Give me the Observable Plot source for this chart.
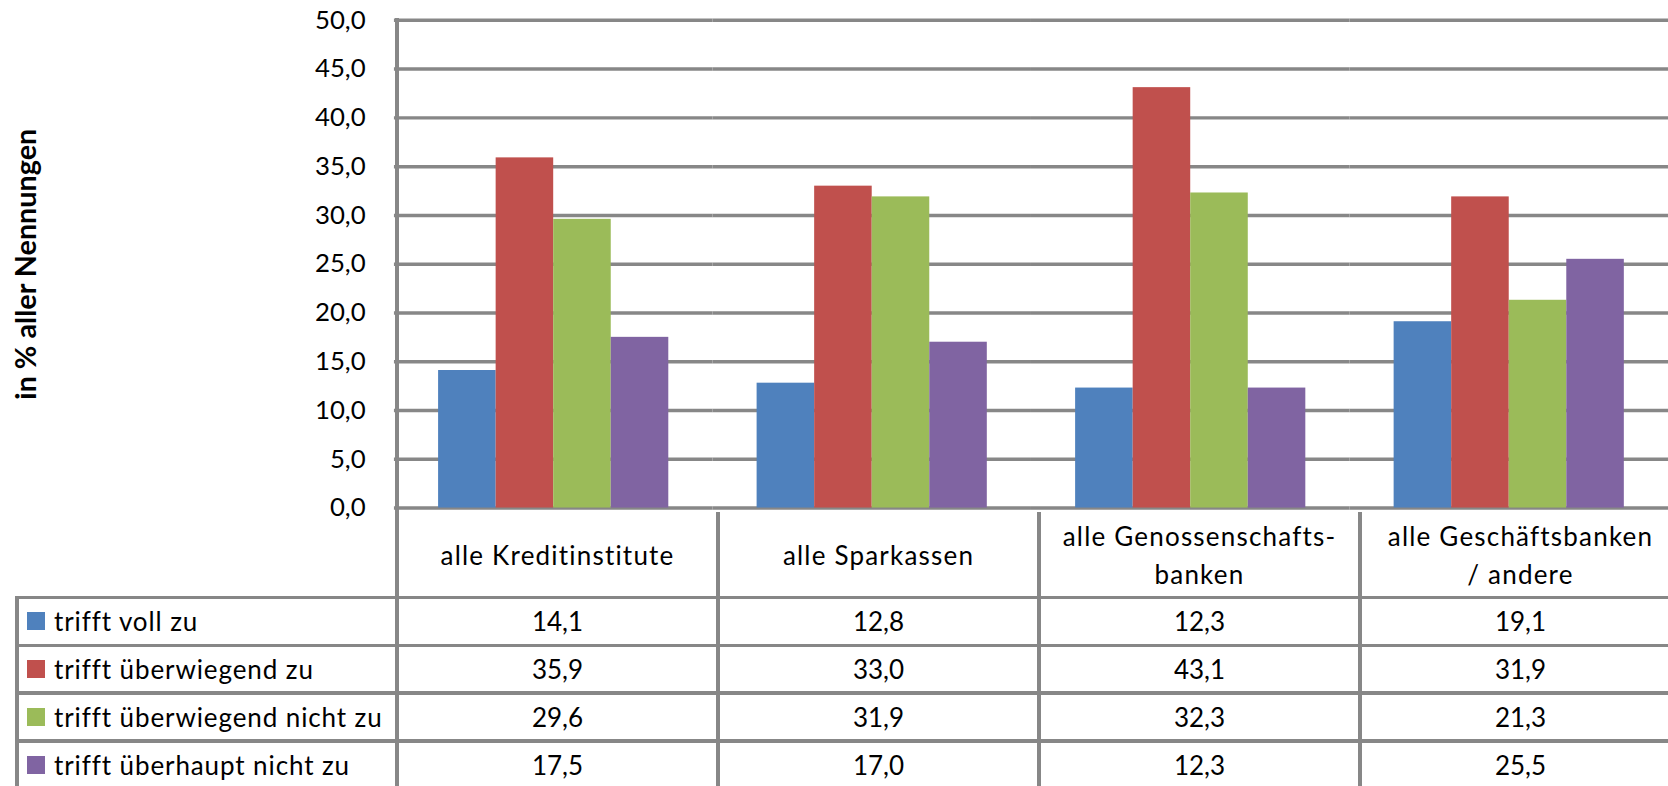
<!DOCTYPE html>
<html><head><meta charset="utf-8">
<script src="https://cdn.jsdelivr.net/npm/d3@7"></script>
<script src="https://cdn.jsdelivr.net/npm/@observablehq/plot@0.6"></script>
<style>
html,body{margin:0;padding:0;background:#fff;overflow:hidden;width:1668px;height:786px;}
#wrap{position:relative;width:1668px;height:786px;overflow:hidden;font-family:Lato, sans-serif;}
#wrap svg{position:absolute;left:0;top:0;}
.ln{position:absolute;background:#878787;}
.cell{position:absolute;display:flex;align-items:center;justify-content:center;text-align:center;font-size:26px;color:#000;white-space:pre-line;box-sizing:border-box;}
.hdr{line-height:38px;letter-spacing:1.2px;}
.lab{justify-content:flex-start;letter-spacing:0.9px;}
.sw{display:inline-block;width:18px;height:18px;margin-left:10px;margin-right:9px;}
</style></head><body><div id="wrap"></div>
<script>
const categories = ["alle Kreditinstitute", "alle Sparkassen", "alle Genossenschaftsbanken", "alle Geschäftsbanken / andere"];
const categoryLabels = ["alle Kreditinstitute", "alle Sparkassen", "alle Genossenschafts-\nbanken", "alle Geschäftsbanken\n/ andere"];
const series = ["trifft voll zu", "trifft überwiegend zu", "trifft überwiegend nicht zu", "trifft überhaupt nicht zu"];
const colors = ["#4F81BD", "#C0504D", "#9BBB59", "#8064A2"];
const trifftVollZu = [14.1, 12.8, 12.3, 19.1];
const trifftUeberwiegendZu = [35.9, 33.0, 43.1, 31.9];
const trifftUeberwiegendNichtZu = [29.6, 31.9, 32.3, 21.3];
const trifftUeberhauptNichtZu = [17.5, 17.0, 12.3, 25.5];
const yTicks = [0, 5, 10, 15, 20, 25, 30, 35, 40, 45, 50];
const yLabel = "in % aller Nennungen";

const seriesValues = [trifftVollZu, trifftUeberwiegendZu, trifftUeberwiegendNichtZu, trifftUeberhauptNichtZu];
const data = series.flatMap((s, i) => categories.map((c, j) => ({category: c, series: s, value: seriesValues[i][j]})));
const fmt = d => d.toFixed(1).replace(".", ",");

const plot = Plot.plot({
  width: 1681, height: 514,
  marginLeft: 396.5, marginRight: 0, marginTop: 20, marginBottom: 2.5,
  style: {fontFamily: "Lato, sans-serif", fontSize: "26px", color: "#000", background: "transparent", overflow: "visible"},
  fx: {domain: categories, padding: 0, axis: null},
  x: {domain: series, paddingInner: 0, paddingOuter: 0.767, axis: null},
  y: {domain: [0, 50], axis: null},
  color: {domain: series, range: colors},
  marks: [
    Plot.gridY(yTicks, {stroke: "#878787", strokeOpacity: 1, strokeWidth: 3.5}),
    Plot.barY(data, {fx: "category", x: "series", y: "value", fill: "series"}),
    Plot.axisY(yTicks, {tickSize: 0, tickPadding: 29, tickFormat: fmt, label: null, fontSize: 26}),
    Plot.axisY({ticks: [], label: yLabel, labelAnchor: "center", labelArrow: "none", labelOffset: 382, fontWeight: "bold", fontSize: 29})
  ]
});
const wrap = document.getElementById("wrap");
wrap.appendChild(plot);

// data table below the chart, aligned on the facet scale
const fx = plot.scale("fx");
const yS = plot.scale("y");
const step = fx.step || fx.bandwidth;
const x0 = fx.apply(categories[0]);
const yTop = yS.apply(50), yZero = yS.apply(0);
const headerH = 86, rowH = 47.8, tableLeft = 17, lw = 3.5;
const H = 786, W = 1668;
function line(x, y, w, h) {
  const d = document.createElement("div"); d.className = "ln";
  d.style.left = x + "px"; d.style.top = y + "px"; d.style.width = w + "px"; d.style.height = h + "px";
  wrap.appendChild(d);
}
function cell(x, y, w, h, html, cls) {
  const d = document.createElement("div"); d.className = "cell " + (cls || "");
  d.style.left = x + "px"; d.style.top = y + "px"; d.style.width = w + "px"; d.style.height = h + "px";
  d.innerHTML = html; wrap.appendChild(d); return d;
}
// vertical lines
line(x0 - lw / 2, yTop - lw / 2, lw, H);
for (let k = 1; k <= categories.length; k++) line(x0 + k * step - lw / 2, yZero, lw, H);
line(tableLeft - lw / 2, yZero + headerH - lw / 2, lw, H);
// horizontal lines
for (let r = 0; r < series.length; r++) {
  const y = yZero + headerH + r * rowH;
  line(tableLeft - lw / 2, y - lw / 2, W, lw);
}
// header
categories.forEach((c, j) => cell(fx.apply(c), yZero, step, headerH, categoryLabels[j], "hdr"));
// rows
series.forEach((s, i) => {
  const y = yZero + headerH + i * rowH;
  cell(tableLeft, y, x0 - tableLeft, rowH, `<span class="sw" style="background:${colors[i]}"></span>${s}`, "lab");
  categories.forEach((c, j) => cell(fx.apply(c), y, step, rowH, fmt(seriesValues[i][j])));
});
</script></body></html>
